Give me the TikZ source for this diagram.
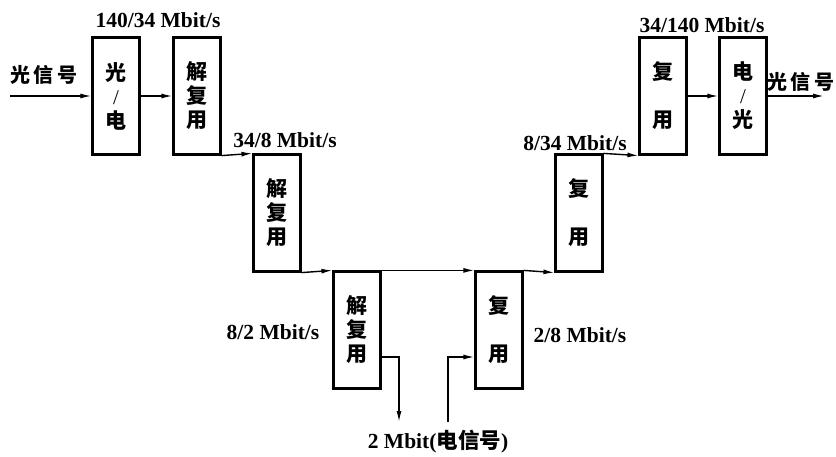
\documentclass[tikz,border=0pt]{standalone}
\usepackage{fontspec}
\setmainfont{Liberation Serif}
\newfontfamily\cjk{Noto Sans CJK SC}
\usetikzlibrary{arrows.meta}

\begin{document}
\begin{tikzpicture}[x=1pt,y=-1pt,line width=1.4pt,
    >={Latex[length=11pt,width=5pt]},
    blk/.style={draw,line width=2.2pt,minimum width=47pt,minimum height=117pt,
      inner sep=0pt,align=center,font=\cjk\bfseries\fontsize{21}{24}\selectfont},
    rate/.style={inner sep=0pt,font=\bfseries\fontsize{21.5}{24}\selectfont},
    sig/.style={inner sep=0pt,font=\cjk\bfseries\fontsize{20}{24}\selectfont}]
  \useasboundingbox (0,0) rectangle (836,457);
  % demultiplexing chain, stepping down
  \node[blk] (oe)  at (116,96)  {光\\{\rmfamily\mdseries /}\\电};
  \node[blk] (dmA) at (197,96)  {解\\复\\用};
  \node[blk] (dmB) at (277,213) {解\\复\\用};
  \node[blk] (dmC) at (357,330) {解\\复\\用};
  % multiplexing chain, stepping back up
  \node[blk] (mxA) at (499,330) {复\\[24pt]用};
  \node[blk] (mxB) at (579,213) {复\\[24pt]用};
  \node[blk] (mxC) at (663,96)  {复\\[24pt]用};
  \node[blk] (eo)  at (743,96)  {电\\{\rmfamily\mdseries /}\\光};
  % free ends
  \coordinate (in)  at (10,96);
  \coordinate (out) at (824,96);
  \coordinate (lo)  at (399,422);
  \coordinate (li)  at (448,422);
  % connectors
  \draw[->] (in) -- (oe);
  \draw[->] (oe) -- (dmA);
  \draw[->] (dmA.south east) -- (dmB.north west);
  \draw[->] (dmB.south east) -- (dmC.north west);
  \draw[->] (dmC.north east) -- (mxA.north west);
  \draw[->] (mxA.north east) -- (mxB.south west);
  \draw[->] (mxB.north east) -- (mxC.south west);
  \draw[->] (mxC) -- (eo);
  \draw[->] (eo) -- (out);
  \draw[->] ([yshift=-27pt]dmC.east) -| (lo);
  \draw[->] (li) |- ([yshift=-27pt]mxA.west);
  % rates and signal labels
  \node[rate] (rA) at (158,20)  {140/34 Mbit/s};
  \node[rate] (rB) at (285,140) {34/8 Mbit/s};
  \node[rate] (rC) at (273,332) {8/2 Mbit/s};
  \node[rate] (rD) at (580,335) {2/8 Mbit/s};
  \node[rate] (rE) at (575,143) {8/34 Mbit/s};
  \node[rate] (rF) at (702,25)  {34/140 Mbit/s};
  \node[rate] (lowsig) at (438,442) {2 Mbit({\cjk 电信号})};
  \node[sig] (insig)  at (44,75)  {光\,信\,号};
  \node[sig] (outsig) at (801,82) {光\,信\,号};
\end{tikzpicture}
\end{document}
